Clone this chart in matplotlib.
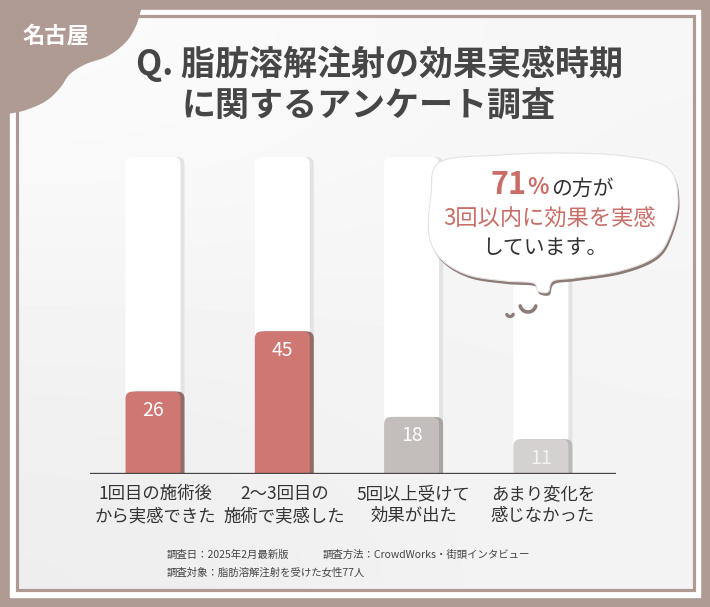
import numpy as np
import matplotlib
matplotlib.use("Agg")
import matplotlib.pyplot as plt
from matplotlib.patches import Rectangle, FancyBboxPatch, Polygon

plt.rcParams['font.family'] = ['Noto Sans CJK JP', 'DejaVu Sans']

# data
categories = ["1回目の施術後\nから実感できた", "2〜3回目の\n施術で実感した",
              "5回以上受けて\n効果が出た", "あまり変化を\n感じなかった"]
values = [26, 45, 18, 11]
full_scale = 100
bar_colors = ["#cf7772", "#cf7772", "#c3bdbc", "#d5d1d1"]
shadow_colors = ["#8f6e69", "#8f6e69", "#a9a3a2", "#bdb8b7"]
value_colors = ["white", "white", "white", "#f2f2f2"]

title_lines = ["Q. 脂肪溶解注射の効果実感時期", "に関するアンケート調査"]
badge = "名古屋"
note_lines = ["調査日：2025年2月最新版", "調査方法：CrowdWorks・街頭インタビュー",
              "調査対象：脂肪溶解注射を受けた女性77人"]

BROWN = "#b09b94"
W, H = 710, 607


def catmull(pts, closed=False, n=16):
    pts = np.asarray(pts, float)
    if closed:
        p = np.vstack([pts[-1], pts, pts[0], pts[1]])
    else:
        p = np.vstack([pts[0], pts, pts[-1]])
    out = []
    for i in range(1, len(p) - 2):
        p0, p1, p2, p3 = p[i - 1], p[i], p[i + 1], p[i + 2]
        for t in np.linspace(0, 1, n, endpoint=False):
            t2, t3 = t * t, t * t * t
            out.append(0.5 * ((2 * p1) + (-p0 + p2) * t +
                              (2 * p0 - 5 * p1 + 4 * p2 - p3) * t2 +
                              (-p0 + 3 * p1 - 3 * p2 + p3) * t3))
    if not closed:
        out.append(pts[-1])
    return np.array(out)


fig = plt.figure(figsize=(W / 100, H / 100), dpi=100)

# background / frame layer, pixel coords
bg = fig.add_axes([0, 0, 1, 1], zorder=0)
bg.set_xlim(0, W)
bg.set_ylim(H, 0)
bg.axis('off')
bg.add_patch(Rectangle((0, 0), W, H, color=BROWN))
bg.add_patch(Rectangle((10, 10), 690, 587, color="white"))
grad = np.array([[0.985, 0.965], [0.93, 0.955]])
bg.imshow(grad, cmap='gray', vmin=0, vmax=1, extent=(17, 693, 590, 16),
          interpolation='bicubic', aspect='auto', zorder=1)
bg.add_patch(Rectangle((16.5, 15.5), 677, 574, fill=False, ec=BROWN, lw=2.3, zorder=2))

# corner blob
edge = catmull([(141, 10), (136, 26), (126, 42), (108, 56), (86, 64), (70, 74),
                (60, 88), (46, 101), (26, 110), (8, 114)], n=10)
blob = np.vstack([[(0, 0), (141, 0)], edge, [(0, 114)]])
bg.add_patch(Polygon(blob, closed=True, color=BROWN, lw=0, zorder=3))
bg.text(56, 36, badge, color="white", fontsize=16, ha='center', va='center',
        weight='bold', zorder=4)

# title
bg.text(379, 64, title_lines[0], fontsize=24.5, color="#464646", weight='bold',
        ha='center', va='center', zorder=4)
bg.text(369, 106, title_lines[1], fontsize=24.5, color="#464646", weight='bold',
        ha='center', va='center', zorder=4)

# footnotes
bg.text(167, 555, note_lines[0], fontsize=7.5, color="#444444", va='center', zorder=4)
bg.text(323, 555, note_lines[1], fontsize=7.5, color="#444444", va='center', zorder=4)
bg.text(167, 573, note_lines[2], fontsize=7.5, color="#444444", va='center', zorder=4)

# bar chart axes
x0_px, x1_px, base_px, top_px = 90, 616, 474, 157
ax = fig.add_axes([x0_px / W, (H - base_px) / H, (x1_px - x0_px) / W,
                   (base_px - top_px) / H], zorder=1)
ax.patch.set_alpha(0)
step_px = 129.3
ax.set_xlim(-(155 - x0_px) / step_px, (x1_px - 155) / step_px)
ax.set_ylim(0, full_scale)
for s in ax.spines.values():
    s.set_visible(False)

px_x = 1 / step_px
px_y = full_scale / (base_px - top_px)
bw = 55 * px_x
sh = 4 * px_x
r = 7 * px_x
asp = px_y / px_x


def rbar(xc, h, color, z):
    p = FancyBboxPatch((xc - bw / 2, -4), bw, h + 4,
                       boxstyle=f"round,pad=0,rounding_size={r}",
                       mutation_aspect=asp, fc=color, ec='none', zorder=z)
    ax.add_patch(p)


xs = np.arange(len(values))
xc = xs - 2 * px_x
for i, v in enumerate(values):
    # pillar
    rbar(xc[i] + sh, full_scale, "#e3e3e3", 1)
    rbar(xc[i], full_scale, "white", 1.5)
    # bar
    rbar(xc[i] + sh, v, shadow_colors[i], 2)
    rbar(xc[i], v, bar_colors[i], 2.5)
    ax.text(xc[i], v - 6, str(v), color=value_colors[i],
            fontsize=14, ha='center', va='center', zorder=3)

ax.axhline(0, color="#4b4646", lw=2.4, zorder=4)
ax.set_xticks(xs)
ax.set_xticklabels(categories, fontsize=12.5, color="#333333", linespacing=1.3)
ax.tick_params(axis='x', length=0, pad=8)
ax.set_yticks([])

# speech bubble layer
top = fig.add_axes([0, 0, 1, 1], zorder=2)
top.set_xlim(0, W)
top.set_ylim(H, 0)
top.axis('off')
top.patch.set_alpha(0)
bub = catmull([(440, 162), (500, 155), (560, 153), (625, 156), (668, 168),
               (678, 200), (670, 235), (655, 257), (620, 271), (575, 278),
               (553, 281), (548, 292), (538, 291), (533, 283), (505, 281),
               (468, 275), (441, 259), (429, 235), (431, 195)], closed=True)
top.add_patch(Polygon(bub + [1.5, 3], closed=True, fc="#8d7b76", ec='none'))
top.add_patch(Polygon(bub, closed=True, fc="white", ec="#e6e2e1", lw=0.8))
t = np.linspace(0.25, 2.9, 30)
top.plot(528 + 8 * np.cos(t), 304 + 8 * np.sin(t), color="#8d7b76", lw=2.6,
         solid_capstyle='round')
t = np.linspace(0.4, 2.7, 20)
top.plot(510 + 3.5 * np.cos(t), 313 + 3.5 * np.sin(t), color="#8d7b76", lw=2.4,
         solid_capstyle='round')

RED = "#c96e67"
top.text(527, 185, "71", fontsize=22, color=RED, weight='bold', ha='right', va='center')
top.text(527, 188, "%", fontsize=16, color=RED, weight='bold', ha='left', va='center')
top.text(551, 189, "の方が", fontsize=15, color="#333333", ha='left', va='center')
top.text(550, 219, "3回以内に効果を実感", fontsize=16, color=RED, ha='center', va='center')
top.text(545, 248, "しています。", fontsize=15, color="#333333", ha='center', va='center')

fig.savefig("out.png", dpi=100)
